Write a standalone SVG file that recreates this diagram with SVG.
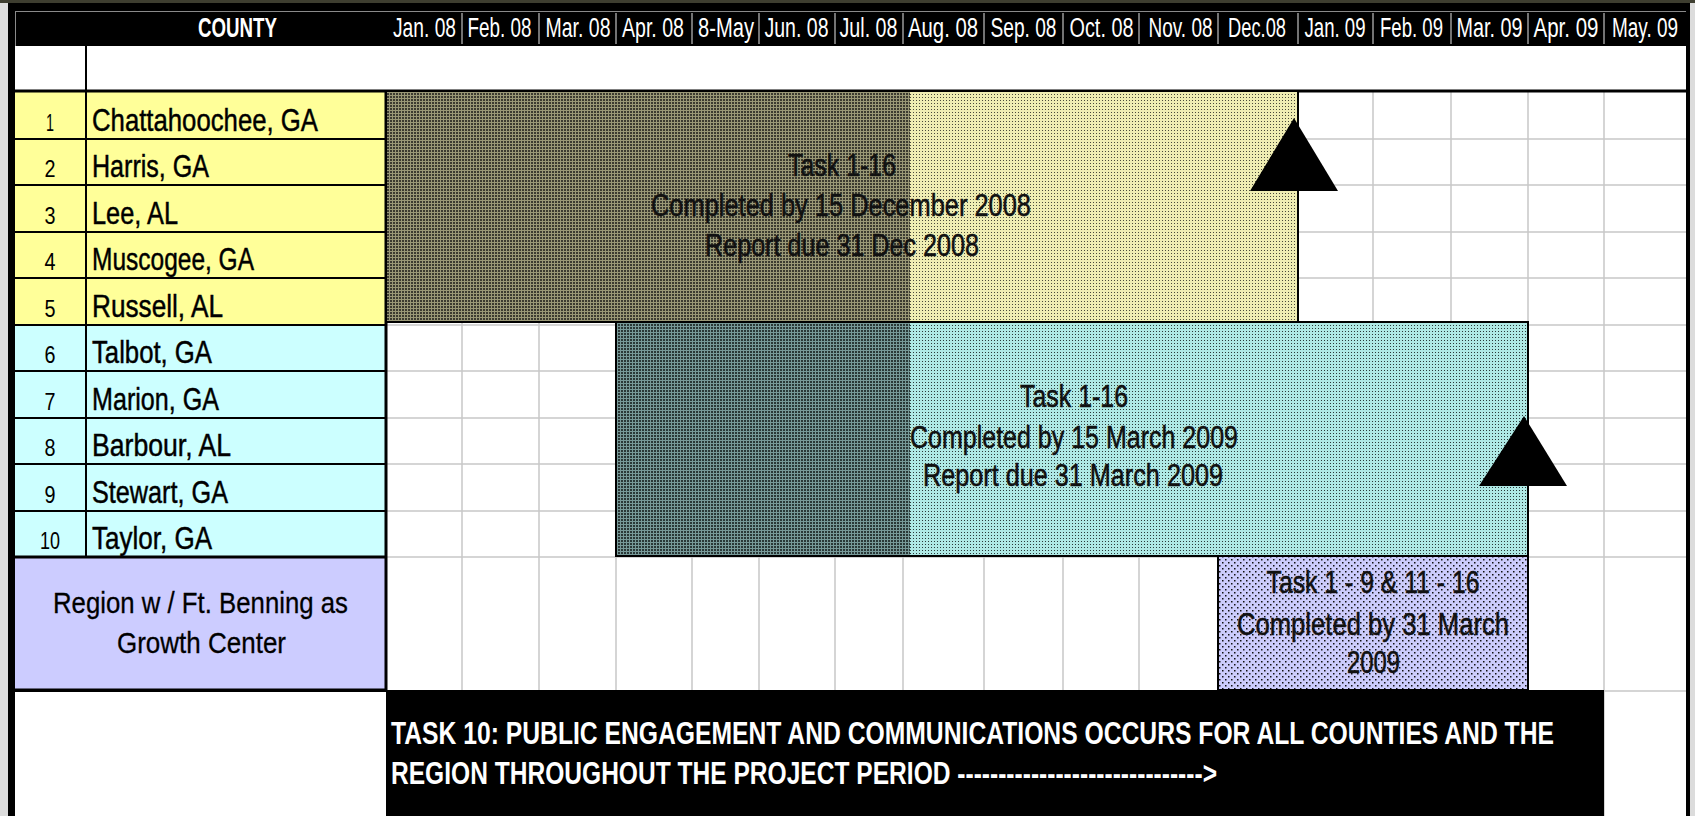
<svg xmlns="http://www.w3.org/2000/svg" width="1695" height="816" viewBox="0 0 1695 816">
<style>
text{font-family:"Liberation Sans",Arial,sans-serif}
.hdr{font-size:20px;fill:#fff;text-anchor:middle}
.cty{font-size:19px;font-weight:bold;fill:#fff}
.idx{font-size:24px;fill:#000;text-anchor:middle}
.nm{font-size:31px;fill:#000;stroke:#000;stroke-width:0.45}
.bt{font-size:31px;fill:#111;text-anchor:middle;stroke:#111;stroke-width:0.55}
.rg{font-size:30px;fill:#000;text-anchor:middle;stroke:#000;stroke-width:0.3}
.t10{font-size:24px;font-weight:bold;fill:#fff}
.sep{stroke:#e6e6e6;stroke-width:1}
.grid{stroke:#c8c8c8;stroke-width:1.5;fill:none}
.blk{stroke:#000;stroke-width:2;fill:none}
</style>
<defs>
<pattern id="pOlive" width="3" height="3" patternUnits="userSpaceOnUse"><rect width="3" height="3" fill="#9a9876"/><rect width="2" height="2" fill="#3c3b30"/></pattern>
<pattern id="pYellow" width="3" height="3" patternUnits="userSpaceOnUse"><rect width="3" height="3" fill="#efedb3"/><rect x="1" y="1" width="1" height="1" fill="#4a4a3a"/></pattern>
<pattern id="pTeal" width="3" height="3" patternUnits="userSpaceOnUse"><rect width="3" height="3" fill="#779998"/><rect width="2" height="2" fill="#2a3837"/></pattern>
<pattern id="pCyan" width="3" height="3" patternUnits="userSpaceOnUse"><rect width="3" height="3" fill="#afe9e5"/><rect x="1" y="1" width="1" height="1" fill="#2a3a3a"/></pattern>
<pattern id="pLav" width="6" height="6" patternUnits="userSpaceOnUse"><rect width="6" height="6" fill="#ccccfc"/><rect x="1" y="1" width="1.5" height="1.5" fill="#111"/><rect x="4" y="4" width="1.5" height="1.5" fill="#111"/></pattern>
</defs>

<g id="frame">
<rect x="0" y="0" width="1695" height="816" fill="#dcdcdc"/>
<rect x="0" y="0" width="1695" height="3" fill="#3e3e30"/>
<rect x="8" y="3" width="1682" height="813" fill="#000"/>
<rect x="15" y="46" width="1671" height="770" fill="#fff"/>
<line x1="15" y1="11.5" x2="1686" y2="11.5" stroke="#8a8a8a" stroke-width="1"/>
<line x1="15.5" y1="11" x2="15.5" y2="46" stroke="#8a8a8a" stroke-width="1"/>
</g>

<g id="header">
<text class="cty" transform="translate(198,37) scale(1,1.47)" textLength="79" lengthAdjust="spacingAndGlyphs">COUNTY</text>
<g class="sep">
<line x1="462" y1="13" x2="462" y2="44"/><line x1="539" y1="13" x2="539" y2="44"/><line x1="616" y1="13" x2="616" y2="44"/><line x1="692" y1="13" x2="692" y2="44"/><line x1="759" y1="13" x2="759" y2="44"/><line x1="835" y1="13" x2="835" y2="44"/><line x1="903" y1="13" x2="903" y2="44"/><line x1="984" y1="13" x2="984" y2="44"/><line x1="1063" y1="13" x2="1063" y2="44"/><line x1="1139" y1="13" x2="1139" y2="44"/><line x1="1218" y1="13" x2="1218" y2="44"/><line x1="1298" y1="13" x2="1298" y2="44"/><line x1="1373" y1="13" x2="1373" y2="44"/><line x1="1451" y1="13" x2="1451" y2="44"/><line x1="1528" y1="13" x2="1528" y2="44"/><line x1="1604" y1="13" x2="1604" y2="44"/>
</g>
<text class="hdr" transform="translate(424.5,37) scale(1,1.4)" textLength="63" lengthAdjust="spacingAndGlyphs">Jan. 08</text>
<text class="hdr" transform="translate(499.5,37) scale(1,1.4)" textLength="64" lengthAdjust="spacingAndGlyphs">Feb. 08</text>
<text class="hdr" transform="translate(578,37) scale(1,1.4)" textLength="65" lengthAdjust="spacingAndGlyphs">Mar. 08</text>
<text class="hdr" transform="translate(653,37) scale(1,1.4)" textLength="62" lengthAdjust="spacingAndGlyphs">Apr. 08</text>
<text class="hdr" transform="translate(726,37) scale(1,1.4)" textLength="56" lengthAdjust="spacingAndGlyphs">8-May</text>
<text class="hdr" transform="translate(796.5,37) scale(1,1.4)" textLength="64" lengthAdjust="spacingAndGlyphs">Jun. 08</text>
<text class="hdr" transform="translate(868.5,37) scale(1,1.4)" textLength="58" lengthAdjust="spacingAndGlyphs">Jul. 08</text>
<text class="hdr" transform="translate(943,37) scale(1,1.4)" textLength="70" lengthAdjust="spacingAndGlyphs">Aug. 08</text>
<text class="hdr" transform="translate(1023.5,37) scale(1,1.4)" textLength="66" lengthAdjust="spacingAndGlyphs">Sep. 08</text>
<text class="hdr" transform="translate(1101.5,37) scale(1,1.4)" textLength="64" lengthAdjust="spacingAndGlyphs">Oct. 08</text>
<text class="hdr" transform="translate(1180.5,37) scale(1,1.4)" textLength="64" lengthAdjust="spacingAndGlyphs">Nov. 08</text>
<text class="hdr" transform="translate(1257,37) scale(1,1.4)" textLength="58" lengthAdjust="spacingAndGlyphs">Dec.08</text>
<text class="hdr" transform="translate(1335,37) scale(1,1.4)" textLength="61" lengthAdjust="spacingAndGlyphs">Jan. 09</text>
<text class="hdr" transform="translate(1411.5,37) scale(1,1.4)" textLength="63" lengthAdjust="spacingAndGlyphs">Feb. 09</text>
<text class="hdr" transform="translate(1489.5,37) scale(1,1.4)" textLength="66" lengthAdjust="spacingAndGlyphs">Mar. 09</text>
<text class="hdr" transform="translate(1566,37) scale(1,1.4)" textLength="65" lengthAdjust="spacingAndGlyphs">Apr. 09</text>
<text class="hdr" transform="translate(1645,37) scale(1,1.4)" textLength="66" lengthAdjust="spacingAndGlyphs">May. 09</text>
</g>

<g id="grid" class="grid">
<path d="M462 92V690M539 92V690M616 92V690M692 92V690M759 92V690M835 92V690M903 92V690M984 92V690M1063 92V690M1139 92V690M1218 92V690M1298 92V690M1373 92V690M1451 92V690M1528 92V690M1604 92V816"/>
<path d="M386 139H1686M386 185H1686M386 232H1686M386 278H1686M386 325H1686M386 371H1686M386 418H1686M386 464H1686M386 511H1686M386 557H1686M1604 691H1686"/>
</g>

<g id="county-rows">
<rect x="15" y="92" width="371" height="233" fill="#ffff99"/>
<rect x="15" y="325" width="371" height="232" fill="#ccffff"/>
<g class="blk">
<path d="M15 139H386M15 185H386M15 232H386M15 278H386M15 325H386M15 371H386M15 418H386M15 464H386M15 511H386"/>
<path d="M86 46V557"/>
</g>
<g id="row-1"><text class="idx" x="50" y="131" textLength="8" lengthAdjust="spacingAndGlyphs">1</text><text class="nm" x="92" y="131" textLength="226" lengthAdjust="spacingAndGlyphs">Chattahoochee, GA</text></g>
<g id="row-2"><text class="idx" x="50" y="177" textLength="11" lengthAdjust="spacingAndGlyphs">2</text><text class="nm" x="92" y="177" textLength="117" lengthAdjust="spacingAndGlyphs">Harris, GA</text></g>
<g id="row-3"><text class="idx" x="50" y="224" textLength="11" lengthAdjust="spacingAndGlyphs">3</text><text class="nm" x="92" y="224" textLength="86" lengthAdjust="spacingAndGlyphs">Lee, AL</text></g>
<g id="row-4"><text class="idx" x="50" y="270" textLength="11" lengthAdjust="spacingAndGlyphs">4</text><text class="nm" x="92" y="270" textLength="162" lengthAdjust="spacingAndGlyphs">Muscogee, GA</text></g>
<g id="row-5"><text class="idx" x="50" y="317" textLength="11" lengthAdjust="spacingAndGlyphs">5</text><text class="nm" x="92" y="317" textLength="131" lengthAdjust="spacingAndGlyphs">Russell, AL</text></g>
<g id="row-6"><text class="idx" x="50" y="363" textLength="11" lengthAdjust="spacingAndGlyphs">6</text><text class="nm" x="92" y="363" textLength="120" lengthAdjust="spacingAndGlyphs">Talbot, GA</text></g>
<g id="row-7"><text class="idx" x="50" y="410" textLength="11" lengthAdjust="spacingAndGlyphs">7</text><text class="nm" x="92" y="410" textLength="127" lengthAdjust="spacingAndGlyphs">Marion, GA</text></g>
<g id="row-8"><text class="idx" x="50" y="456" textLength="11" lengthAdjust="spacingAndGlyphs">8</text><text class="nm" x="92" y="456" textLength="139" lengthAdjust="spacingAndGlyphs">Barbour, AL</text></g>
<g id="row-9"><text class="idx" x="50" y="503" textLength="11" lengthAdjust="spacingAndGlyphs">9</text><text class="nm" x="92" y="503" textLength="136" lengthAdjust="spacingAndGlyphs">Stewart, GA</text></g>
<g id="row-10"><text class="idx" x="50" y="549" textLength="20" lengthAdjust="spacingAndGlyphs">10</text><text class="nm" x="92" y="549" textLength="120" lengthAdjust="spacingAndGlyphs">Taylor, GA</text></g>
</g>

<g id="region-row">
<rect x="15" y="557" width="371" height="133" fill="#ccccff"/>
<text class="rg" x="200.5" y="613" textLength="295" lengthAdjust="spacingAndGlyphs">Region w / Ft. Benning as</text>
<text class="rg" x="201.5" y="653" textLength="169" lengthAdjust="spacingAndGlyphs">Growth Center</text>
</g>

<g id="rules">
<rect x="15" y="89.5" width="1671" height="3" fill="#000"/>
<rect x="15" y="555.5" width="371" height="3" fill="#000"/>
<rect x="15" y="688.5" width="371" height="3.5" fill="#000"/>
<rect x="384.5" y="92" width="3" height="598" fill="#000"/>
</g>

<g id="bar-1">
<rect x="386" y="91" width="524" height="231" fill="url(#pOlive)"/>
<rect x="910" y="91" width="388" height="231" fill="url(#pYellow)"/>
<rect x="386" y="91" width="912" height="231" class="blk"/>
<text class="bt" x="842" y="176" textLength="108" lengthAdjust="spacingAndGlyphs">Task 1-16</text>
<text class="bt" x="841" y="216" textLength="380" lengthAdjust="spacingAndGlyphs">Completed by 15 December 2008</text>
<text class="bt" x="842" y="256" textLength="274" lengthAdjust="spacingAndGlyphs">Report due 31 Dec 2008</text>
</g>
<g id="bar-2">
<rect x="616" y="322" width="294" height="234" fill="url(#pTeal)"/>
<rect x="910" y="322" width="618" height="234" fill="url(#pCyan)"/>
<rect x="616" y="322" width="912" height="234" class="blk"/>
<text class="bt" x="1074" y="407" textLength="108" lengthAdjust="spacingAndGlyphs">Task 1-16</text>
<text class="bt" x="1074" y="448" textLength="328" lengthAdjust="spacingAndGlyphs">Completed by 15 March 2009</text>
<text class="bt" x="1073" y="486" textLength="300" lengthAdjust="spacingAndGlyphs">Report due 31 March 2009</text>
</g>
<g id="bar-3">
<rect x="1218" y="556" width="310" height="134" fill="url(#pLav)"/>
<rect x="1218" y="556" width="310" height="134" class="blk"/>
<text class="bt" x="1373" y="593" textLength="213" lengthAdjust="spacingAndGlyphs">Task 1 - 9 &amp; 11 - 16</text>
<text class="bt" x="1373" y="635" textLength="272" lengthAdjust="spacingAndGlyphs">Completed by 31 March</text>
<text class="bt" x="1373.5" y="673" textLength="53" lengthAdjust="spacingAndGlyphs">2009</text>
</g>

<g id="milestone-1"><polygon points="1294,118 1250,191 1338,191" fill="#000"/></g>
<g id="milestone-2"><polygon points="1524,416 1479,486 1567,486" fill="#000"/></g>

<g id="task-10">
<rect x="386" y="690" width="1218" height="126" fill="#000"/>
<text class="t10" transform="translate(391,744) scale(1,1.29)" textLength="1163" lengthAdjust="spacingAndGlyphs">TASK 10: PUBLIC ENGAGEMENT AND COMMUNICATIONS OCCURS FOR ALL COUNTIES AND THE</text>
<text class="t10" transform="translate(391,784) scale(1,1.29)" textLength="826" lengthAdjust="spacingAndGlyphs">REGION THROUGHOUT THE PROJECT PERIOD ------------------------------&gt;</text>
</g>

<g id="connectors"/>
</svg>
